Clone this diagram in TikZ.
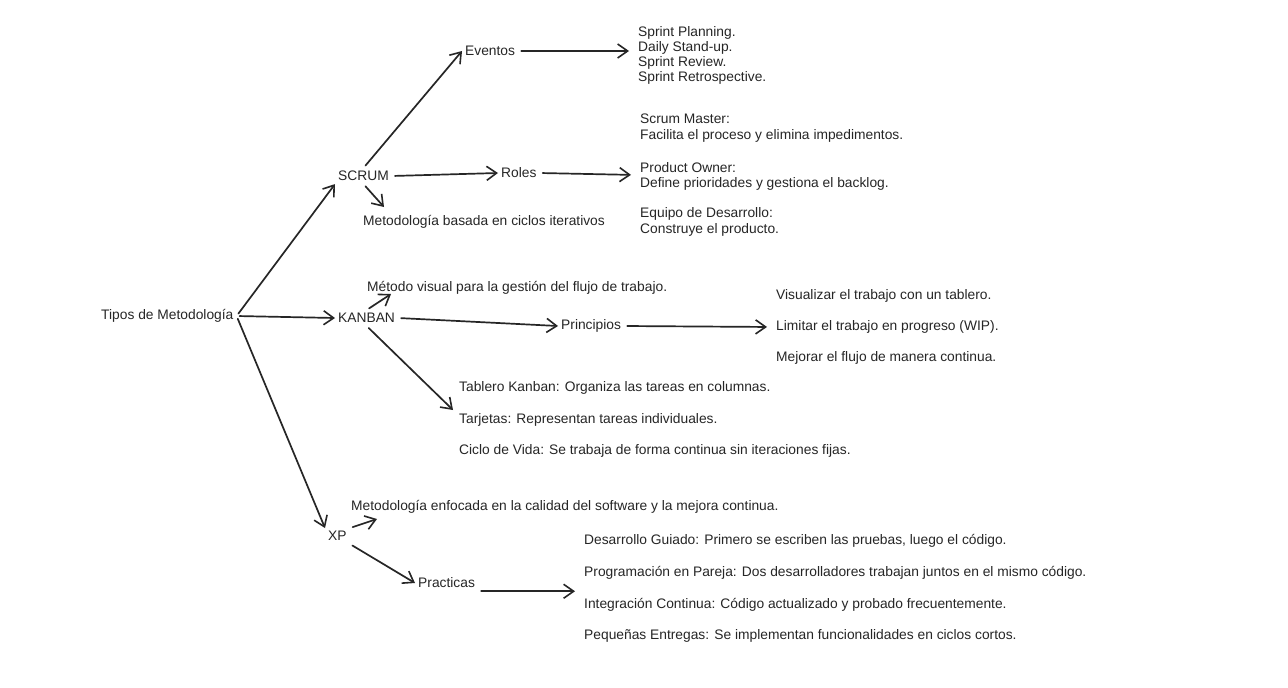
\documentclass[tikz,border=0pt]{standalone}
\usepackage{fontspec}
\setmainfont{Liberation Sans}
\usetikzlibrary{arrows.meta}
\begin{document}
\begin{tikzpicture}[x=1pt,y=-1pt,
  txt/.style={anchor=west,inner sep=3pt,font=\fontsize{13.8}{15}\selectfont,align=left,text=black!85},
  arr/.style={line width=1.7pt,draw=black!85,line cap=round,shorten <=3pt,-{Straight Barb[length=10pt,width=14pt,line width=1.6pt]}},
  tolist/.style={shorten >=6pt}]
\fill[white] (0,0) rectangle (1288,688);
\useasboundingbox (0,0) rectangle (1288,688);
% nodes
\node[txt] (tipos) at (98,316) {Tipos de Metodología};
\node[txt] (scrum) at (335,176) {SCRUM};
\node[txt] (eventos) at (462,51) {Eventos};
\node[txt] (sprint) at (635,55.5) {Sprint Planning.\\Daily Stand-up.\\Sprint Review.\\Sprint Retrospective.};
\node[txt,font=\fontsize{13.8}{15.5}\selectfont] (rlist) at (637,175) {Scrum Master:\\Facilita el proceso y elimina impedimentos.\\[17.5pt]Product Owner:\\Define prioridades y gestiona el backlog.\\[14.5pt]Equipo de Desarrollo:\\Construye el producto.};
\node[txt] (roles) at (498,173) {Roles};
\node[txt] (metbas) at (360,222) {Metodología basada en ciclos iterativos};
\node[txt] (kanban) at (335,318) {KANBAN};
\node[txt] (metvis) at (364,288) {Método visual para la gestión del flujo de trabajo.};
\node[txt] (princ) at (558,326) {Principios};
\node[txt,font=\fontsize{13.8}{31}\selectfont] (plist) at (773,327) {Visualizar el trabajo con un tablero.\\Limitar el trabajo en progreso (WIP).\\Mejorar el flujo de manera continua.};
\node[txt,font=\fontsize{13.8}{31.5}\selectfont] (klist) at (456,419.5) {Tablero Kanban: Organiza las tareas en columnas.\\Tarjetas: Representan tareas individuales.\\Ciclo de Vida: Se trabaja de forma continua sin iteraciones fijas.};
\node[txt] (xp) at (325,536) {XP};
\node[txt] (metenf) at (348,507) {Metodología enfocada en la calidad del software y la mejora continua.};
\node[txt] (pract) at (415,583) {Practicas};
\node[txt,font=\fontsize{13.8}{31.7}\selectfont] (xlist) at (581,588.5) {Desarrollo Guiado: Primero se escriben las pruebas, luego el código.\\Programación en Pareja: Dos desarrolladores trabajan juntos en el mismo código.\\Integración Continua: Código actualizado y probado frecuentemente.\\Pequeñas Entregas: Se implementan funcionalidades en ciclos cortos.};
% free ends of short arrows
\coordinate (metbastip) at (384,207);
\coordinate (metvistip) at (391,294);
\coordinate (metenftip) at (377,519);
\coordinate (klisttip) at (453,410);
% connectors
\draw[arr] (tipos.east) -- (scrum.south west);
\draw[arr] (tipos.east) -- (kanban.west);
\draw[arr] (tipos.east) -- (xp.north west);
\draw[arr] (scrum.north) -- (eventos.west);
\draw[arr] (scrum.east) -- (roles.west);
\draw[arr] (scrum.south) -- (metbastip);
\draw[arr,tolist] (eventos.east) -- (eventos.east -| sprint.west);
\draw[arr,tolist] (roles.east) -- (rlist.west);
\draw[arr] (kanban.north) -- (metvistip);
\draw[arr] (kanban.east) -- (princ.west);
\draw[arr] (kanban.south) -- (klisttip);
\draw[arr,tolist] (princ.east) -- (plist.west);
\draw[arr] (xp.north east) -- (metenftip);
\draw[arr] (xp.south east) -- (pract.west);
\draw[arr,tolist] (pract.south east) -- (pract.south east -| xlist.west);
\end{tikzpicture}
\end{document}
